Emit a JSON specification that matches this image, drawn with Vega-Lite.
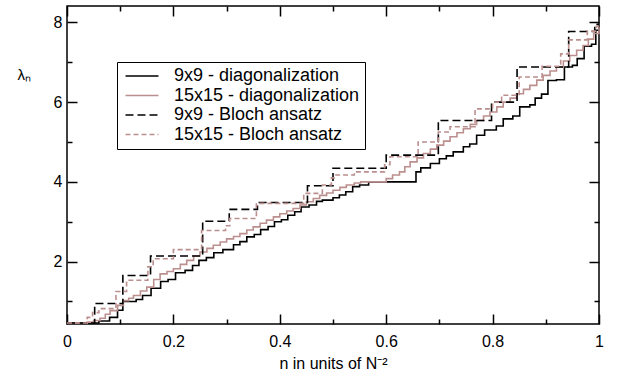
{
  "$schema": "https://vega.github.io/schema/vega-lite/v6.json",
  "width": 532,
  "height": 318,
  "autosize": {"type": "none"},
  "padding": {"left": 67, "top": 6, "right": 27, "bottom": 50},
  "config": {
    "view": {"stroke": "#000", "strokeWidth": 1.5},
    "font": "Liberation Sans",
    "legend": {
      "orient": "none", "legendX": 50, "legendY": 56,
      "strokeColor": "#000", "fillColor": "#fff", "padding": 5,
      "labelFontSize": 18, "labelColor": "#000", "labelFont": "Liberation Sans",
      "symbolSize": 121, "symbolStrokeWidth": 1.6, "rowPadding": 1.5,
      "labelLimit": 0, "labelOffset": 34, "cornerRadius": 0,
      "symbolType": "M-1,0L5,0"
    }
  },
  "datasets": {
    "pts": [
      {"s": "9x9 - diagonalization", "x": 0.000, "y": 0.46},
      {"s": "9x9 - diagonalization", "x": 0.060, "y": 0.51},
      {"s": "9x9 - diagonalization", "x": 0.080, "y": 0.60},
      {"s": "9x9 - diagonalization", "x": 0.095, "y": 0.78},
      {"s": "9x9 - diagonalization", "x": 0.105, "y": 1.00},
      {"s": "9x9 - diagonalization", "x": 0.130, "y": 1.05},
      {"s": "9x9 - diagonalization", "x": 0.142, "y": 1.15},
      {"s": "9x9 - diagonalization", "x": 0.158, "y": 1.33},
      {"s": "9x9 - diagonalization", "x": 0.176, "y": 1.50},
      {"s": "9x9 - diagonalization", "x": 0.190, "y": 1.55},
      {"s": "9x9 - diagonalization", "x": 0.204, "y": 1.72},
      {"s": "9x9 - diagonalization", "x": 0.222, "y": 1.78},
      {"s": "9x9 - diagonalization", "x": 0.236, "y": 1.90},
      {"s": "9x9 - diagonalization", "x": 0.248, "y": 2.03},
      {"s": "9x9 - diagonalization", "x": 0.262, "y": 2.10},
      {"s": "9x9 - diagonalization", "x": 0.276, "y": 2.22},
      {"s": "9x9 - diagonalization", "x": 0.293, "y": 2.30},
      {"s": "9x9 - diagonalization", "x": 0.313, "y": 2.42},
      {"s": "9x9 - diagonalization", "x": 0.325, "y": 2.50},
      {"s": "9x9 - diagonalization", "x": 0.338, "y": 2.62},
      {"s": "9x9 - diagonalization", "x": 0.352, "y": 2.68},
      {"s": "9x9 - diagonalization", "x": 0.364, "y": 2.80},
      {"s": "9x9 - diagonalization", "x": 0.378, "y": 2.88},
      {"s": "9x9 - diagonalization", "x": 0.390, "y": 3.00},
      {"s": "9x9 - diagonalization", "x": 0.403, "y": 3.05},
      {"s": "9x9 - diagonalization", "x": 0.415, "y": 3.16},
      {"s": "9x9 - diagonalization", "x": 0.428, "y": 3.25},
      {"s": "9x9 - diagonalization", "x": 0.440, "y": 3.37},
      {"s": "9x9 - diagonalization", "x": 0.455, "y": 3.42},
      {"s": "9x9 - diagonalization", "x": 0.469, "y": 3.51},
      {"s": "9x9 - diagonalization", "x": 0.480, "y": 3.54},
      {"s": "9x9 - diagonalization", "x": 0.500, "y": 3.60},
      {"s": "9x9 - diagonalization", "x": 0.512, "y": 3.67},
      {"s": "9x9 - diagonalization", "x": 0.524, "y": 3.75},
      {"s": "9x9 - diagonalization", "x": 0.537, "y": 3.88},
      {"s": "9x9 - diagonalization", "x": 0.550, "y": 3.92},
      {"s": "9x9 - diagonalization", "x": 0.567, "y": 4.00},
      {"s": "9x9 - diagonalization", "x": 0.656, "y": 4.25},
      {"s": "9x9 - diagonalization", "x": 0.665, "y": 4.35},
      {"s": "9x9 - diagonalization", "x": 0.683, "y": 4.46},
      {"s": "9x9 - diagonalization", "x": 0.700, "y": 4.58},
      {"s": "9x9 - diagonalization", "x": 0.713, "y": 4.65},
      {"s": "9x9 - diagonalization", "x": 0.726, "y": 4.75},
      {"s": "9x9 - diagonalization", "x": 0.745, "y": 4.88},
      {"s": "9x9 - diagonalization", "x": 0.757, "y": 4.95},
      {"s": "9x9 - diagonalization", "x": 0.770, "y": 5.17},
      {"s": "9x9 - diagonalization", "x": 0.785, "y": 5.30},
      {"s": "9x9 - diagonalization", "x": 0.807, "y": 5.40},
      {"s": "9x9 - diagonalization", "x": 0.820, "y": 5.58},
      {"s": "9x9 - diagonalization", "x": 0.838, "y": 5.65},
      {"s": "9x9 - diagonalization", "x": 0.851, "y": 5.88},
      {"s": "9x9 - diagonalization", "x": 0.870, "y": 5.93},
      {"s": "9x9 - diagonalization", "x": 0.880, "y": 6.10},
      {"s": "9x9 - diagonalization", "x": 0.892, "y": 6.20},
      {"s": "9x9 - diagonalization", "x": 0.904, "y": 6.54},
      {"s": "9x9 - diagonalization", "x": 0.920, "y": 6.56},
      {"s": "9x9 - diagonalization", "x": 0.935, "y": 6.88},
      {"s": "9x9 - diagonalization", "x": 0.950, "y": 6.92},
      {"s": "9x9 - diagonalization", "x": 0.959, "y": 7.09},
      {"s": "9x9 - diagonalization", "x": 0.972, "y": 7.40},
      {"s": "9x9 - diagonalization", "x": 0.986, "y": 7.45},
      {"s": "9x9 - diagonalization", "x": 0.994, "y": 7.80},
      {"s": "9x9 - diagonalization", "x": 1.000, "y": 7.80},

      {"s": "15x15 - diagonalization", "x": 0.000, "y": 0.46},
      {"s": "15x15 - diagonalization", "x": 0.038, "y": 0.48},
      {"s": "15x15 - diagonalization", "x": 0.050, "y": 0.52},
      {"s": "15x15 - diagonalization", "x": 0.062, "y": 0.58},
      {"s": "15x15 - diagonalization", "x": 0.072, "y": 0.68},
      {"s": "15x15 - diagonalization", "x": 0.081, "y": 0.77},
      {"s": "15x15 - diagonalization", "x": 0.095, "y": 0.90},
      {"s": "15x15 - diagonalization", "x": 0.106, "y": 1.02},
      {"s": "15x15 - diagonalization", "x": 0.116, "y": 1.08},
      {"s": "15x15 - diagonalization", "x": 0.125, "y": 1.15},
      {"s": "15x15 - diagonalization", "x": 0.138, "y": 1.26},
      {"s": "15x15 - diagonalization", "x": 0.150, "y": 1.36},
      {"s": "15x15 - diagonalization", "x": 0.163, "y": 1.55},
      {"s": "15x15 - diagonalization", "x": 0.175, "y": 1.69},
      {"s": "15x15 - diagonalization", "x": 0.188, "y": 1.75},
      {"s": "15x15 - diagonalization", "x": 0.200, "y": 1.82},
      {"s": "15x15 - diagonalization", "x": 0.213, "y": 1.93},
      {"s": "15x15 - diagonalization", "x": 0.225, "y": 2.03},
      {"s": "15x15 - diagonalization", "x": 0.238, "y": 2.14},
      {"s": "15x15 - diagonalization", "x": 0.250, "y": 2.24},
      {"s": "15x15 - diagonalization", "x": 0.263, "y": 2.33},
      {"s": "15x15 - diagonalization", "x": 0.275, "y": 2.41},
      {"s": "15x15 - diagonalization", "x": 0.288, "y": 2.49},
      {"s": "15x15 - diagonalization", "x": 0.300, "y": 2.57},
      {"s": "15x15 - diagonalization", "x": 0.313, "y": 2.63},
      {"s": "15x15 - diagonalization", "x": 0.325, "y": 2.70},
      {"s": "15x15 - diagonalization", "x": 0.338, "y": 2.79},
      {"s": "15x15 - diagonalization", "x": 0.350, "y": 2.87},
      {"s": "15x15 - diagonalization", "x": 0.363, "y": 2.96},
      {"s": "15x15 - diagonalization", "x": 0.375, "y": 3.04},
      {"s": "15x15 - diagonalization", "x": 0.388, "y": 3.12},
      {"s": "15x15 - diagonalization", "x": 0.400, "y": 3.20},
      {"s": "15x15 - diagonalization", "x": 0.413, "y": 3.27},
      {"s": "15x15 - diagonalization", "x": 0.425, "y": 3.33},
      {"s": "15x15 - diagonalization", "x": 0.438, "y": 3.42},
      {"s": "15x15 - diagonalization", "x": 0.450, "y": 3.50},
      {"s": "15x15 - diagonalization", "x": 0.463, "y": 3.58},
      {"s": "15x15 - diagonalization", "x": 0.475, "y": 3.66},
      {"s": "15x15 - diagonalization", "x": 0.488, "y": 3.72},
      {"s": "15x15 - diagonalization", "x": 0.500, "y": 3.79},
      {"s": "15x15 - diagonalization", "x": 0.513, "y": 3.86},
      {"s": "15x15 - diagonalization", "x": 0.525, "y": 3.92},
      {"s": "15x15 - diagonalization", "x": 0.540, "y": 3.97},
      {"s": "15x15 - diagonalization", "x": 0.552, "y": 4.00},
      {"s": "15x15 - diagonalization", "x": 0.600, "y": 4.08},
      {"s": "15x15 - diagonalization", "x": 0.612, "y": 4.17},
      {"s": "15x15 - diagonalization", "x": 0.625, "y": 4.25},
      {"s": "15x15 - diagonalization", "x": 0.635, "y": 4.38},
      {"s": "15x15 - diagonalization", "x": 0.645, "y": 4.50},
      {"s": "15x15 - diagonalization", "x": 0.658, "y": 4.60},
      {"s": "15x15 - diagonalization", "x": 0.670, "y": 4.71},
      {"s": "15x15 - diagonalization", "x": 0.683, "y": 4.82},
      {"s": "15x15 - diagonalization", "x": 0.695, "y": 4.92},
      {"s": "15x15 - diagonalization", "x": 0.708, "y": 5.02},
      {"s": "15x15 - diagonalization", "x": 0.720, "y": 5.13},
      {"s": "15x15 - diagonalization", "x": 0.733, "y": 5.23},
      {"s": "15x15 - diagonalization", "x": 0.745, "y": 5.33},
      {"s": "15x15 - diagonalization", "x": 0.758, "y": 5.44},
      {"s": "15x15 - diagonalization", "x": 0.770, "y": 5.54},
      {"s": "15x15 - diagonalization", "x": 0.783, "y": 5.65},
      {"s": "15x15 - diagonalization", "x": 0.795, "y": 5.75},
      {"s": "15x15 - diagonalization", "x": 0.808, "y": 5.88},
      {"s": "15x15 - diagonalization", "x": 0.820, "y": 6.00},
      {"s": "15x15 - diagonalization", "x": 0.833, "y": 6.10},
      {"s": "15x15 - diagonalization", "x": 0.845, "y": 6.21},
      {"s": "15x15 - diagonalization", "x": 0.858, "y": 6.32},
      {"s": "15x15 - diagonalization", "x": 0.870, "y": 6.42},
      {"s": "15x15 - diagonalization", "x": 0.883, "y": 6.55},
      {"s": "15x15 - diagonalization", "x": 0.895, "y": 6.67},
      {"s": "15x15 - diagonalization", "x": 0.908, "y": 6.78},
      {"s": "15x15 - diagonalization", "x": 0.920, "y": 6.88},
      {"s": "15x15 - diagonalization", "x": 0.933, "y": 7.03},
      {"s": "15x15 - diagonalization", "x": 0.945, "y": 7.17},
      {"s": "15x15 - diagonalization", "x": 0.958, "y": 7.30},
      {"s": "15x15 - diagonalization", "x": 0.970, "y": 7.42},
      {"s": "15x15 - diagonalization", "x": 0.980, "y": 7.58},
      {"s": "15x15 - diagonalization", "x": 0.990, "y": 7.72},
      {"s": "15x15 - diagonalization", "x": 1.000, "y": 7.88},

      {"s": "9x9 - Bloch ansatz", "x": 0.000, "y": 0.46},
      {"s": "9x9 - Bloch ansatz", "x": 0.052, "y": 0.95},
      {"s": "9x9 - Bloch ansatz", "x": 0.105, "y": 1.65},
      {"s": "9x9 - Bloch ansatz", "x": 0.157, "y": 2.14},
      {"s": "9x9 - Bloch ansatz", "x": 0.255, "y": 3.01},
      {"s": "9x9 - Bloch ansatz", "x": 0.305, "y": 3.31},
      {"s": "9x9 - Bloch ansatz", "x": 0.358, "y": 3.48},
      {"s": "9x9 - Bloch ansatz", "x": 0.452, "y": 3.90},
      {"s": "9x9 - Bloch ansatz", "x": 0.500, "y": 4.34},
      {"s": "9x9 - Bloch ansatz", "x": 0.600, "y": 4.67},
      {"s": "9x9 - Bloch ansatz", "x": 0.698, "y": 5.54},
      {"s": "9x9 - Bloch ansatz", "x": 0.798, "y": 6.00},
      {"s": "9x9 - Bloch ansatz", "x": 0.846, "y": 6.88},
      {"s": "9x9 - Bloch ansatz", "x": 0.943, "y": 7.77},
      {"s": "9x9 - Bloch ansatz", "x": 0.992, "y": 7.95},
      {"s": "9x9 - Bloch ansatz", "x": 1.000, "y": 7.95},

      {"s": "15x15 - Bloch ansatz", "x": 0.000, "y": 0.46},
      {"s": "15x15 - Bloch ansatz", "x": 0.038, "y": 0.60},
      {"s": "15x15 - Bloch ansatz", "x": 0.048, "y": 0.72},
      {"s": "15x15 - Bloch ansatz", "x": 0.060, "y": 0.82},
      {"s": "15x15 - Bloch ansatz", "x": 0.092, "y": 1.25},
      {"s": "15x15 - Bloch ansatz", "x": 0.112, "y": 1.53},
      {"s": "15x15 - Bloch ansatz", "x": 0.152, "y": 1.87},
      {"s": "15x15 - Bloch ansatz", "x": 0.162, "y": 2.07},
      {"s": "15x15 - Bloch ansatz", "x": 0.200, "y": 2.30},
      {"s": "15x15 - Bloch ansatz", "x": 0.253, "y": 2.78},
      {"s": "15x15 - Bloch ansatz", "x": 0.298, "y": 2.90},
      {"s": "15x15 - Bloch ansatz", "x": 0.306, "y": 3.08},
      {"s": "15x15 - Bloch ansatz", "x": 0.356, "y": 3.46},
      {"s": "15x15 - Bloch ansatz", "x": 0.445, "y": 3.71},
      {"s": "15x15 - Bloch ansatz", "x": 0.480, "y": 3.92},
      {"s": "15x15 - Bloch ansatz", "x": 0.497, "y": 4.10},
      {"s": "15x15 - Bloch ansatz", "x": 0.505, "y": 4.17},
      {"s": "15x15 - Bloch ansatz", "x": 0.540, "y": 4.25},
      {"s": "15x15 - Bloch ansatz", "x": 0.597, "y": 4.43},
      {"s": "15x15 - Bloch ansatz", "x": 0.607, "y": 4.63},
      {"s": "15x15 - Bloch ansatz", "x": 0.660, "y": 5.00},
      {"s": "15x15 - Bloch ansatz", "x": 0.698, "y": 5.25},
      {"s": "15x15 - Bloch ansatz", "x": 0.720, "y": 5.38},
      {"s": "15x15 - Bloch ansatz", "x": 0.767, "y": 5.83},
      {"s": "15x15 - Bloch ansatz", "x": 0.800, "y": 6.00},
      {"s": "15x15 - Bloch ansatz", "x": 0.817, "y": 6.17},
      {"s": "15x15 - Bloch ansatz", "x": 0.850, "y": 6.63},
      {"s": "15x15 - Bloch ansatz", "x": 0.893, "y": 6.90},
      {"s": "15x15 - Bloch ansatz", "x": 0.928, "y": 7.21},
      {"s": "15x15 - Bloch ansatz", "x": 0.943, "y": 7.56},
      {"s": "15x15 - Bloch ansatz", "x": 0.978, "y": 7.78},
      {"s": "15x15 - Bloch ansatz", "x": 0.995, "y": 7.90},
      {"s": "15x15 - Bloch ansatz", "x": 1.000, "y": 7.90}
    ]
  },
  "data": {"name": "pts"},
  "layer": [
    {
      "mark": {"type": "line", "interpolate": "step-after", "strokeWidth": 1.6},
      "encoding": {
        "x": {
          "field": "x", "type": "quantitative",
          "scale": {"domain": [0, 1], "nice": false, "zero": false},
          "axis": {
            "orient": "bottom", "offset": -10, "grid": false, "domain": false, "ticks": true,
            "values": [0, 0.2, 0.4, 0.6, 0.8, 1],
            "labelExpr": "format(datum.value, '.1~f')",
            "tickSize": 10, "tickColor": "#000", "tickWidth": 1.5,
            "labelFontSize": 16, "labelColor": "#000", "labelFlush": false, "labelPadding": 9,
            "title": "n in units of N⁻²", "titleFontSize": 16, "titleFontWeight": "normal",
            "titleColor": "#000", "titlePadding": 6
          }
        },
        "y": {
          "field": "y", "type": "quantitative",
          "scale": {"domain": [0.434, 8.41], "nice": false, "zero": false},
          "axis": {
            "orient": "left", "offset": -10, "grid": false, "domain": false, "ticks": true,
            "values": [2, 4, 6, 8],
            "tickSize": 10, "tickColor": "#000", "tickWidth": 1.5,
            "labelFontSize": 16, "labelColor": "#000", "labelPadding": 5,
            "title": "λₙ", "titleAngle": 0, "titleX": -60, "titleY": 68,
            "titleAlign": "left", "titleBaseline": "middle",
            "titleFontSize": 15, "titleFontWeight": "normal", "titleColor": "#000"
          }
        },
        "color": {
          "field": "s", "type": "nominal",
          "scale": {
            "domain": ["9x9 - diagonalization", "15x15 - diagonalization", "9x9 - Bloch ansatz", "15x15 - Bloch ansatz"],
            "range": ["#000000", "#bc8f8f", "#000000", "#bc8f8f"]
          },
          "legend": {"title": null}
        },
        "strokeDash": {
          "field": "s", "type": "nominal",
          "scale": {
            "domain": ["9x9 - diagonalization", "15x15 - diagonalization", "9x9 - Bloch ansatz", "15x15 - Bloch ansatz"],
            "range": [[1, 0], [1, 0], [8, 4], [5, 3]]
          },
          "legend": {"title": null}
        }
      }
    },
    {
      "mark": {"type": "point", "opacity": 0},
      "encoding": {
        "x": {
          "field": "x", "type": "quantitative",
          "axis": {"orient": "top", "offset": -10, "grid": false, "domain": false, "ticks": true, "labels": false, "title": null,
                   "values": [0, 0.2, 0.4, 0.6, 0.8, 1], "tickSize": 10, "tickColor": "#000", "tickWidth": 1.5}
        },
        "y": {
          "field": "y", "type": "quantitative",
          "axis": {"orient": "right", "offset": -10, "grid": false, "domain": false, "ticks": true, "labels": false, "title": null,
                   "values": [2, 4, 6, 8], "tickSize": 10, "tickColor": "#000", "tickWidth": 1.5}
        }
      }
    },
    {
      "mark": {"type": "point", "opacity": 0},
      "encoding": {
        "x": {
          "field": "x", "type": "quantitative",
          "axis": {"orient": "bottom", "offset": -5, "grid": false, "domain": false, "ticks": true, "labels": false, "title": null,
                   "values": [0.1, 0.3, 0.5, 0.7, 0.9], "tickSize": 5, "tickColor": "#000", "tickWidth": 1.5}
        },
        "y": {
          "field": "y", "type": "quantitative",
          "axis": {"orient": "left", "offset": -5, "grid": false, "domain": false, "ticks": true, "labels": false, "title": null,
                   "values": [1, 3, 5, 7], "tickSize": 5, "tickColor": "#000", "tickWidth": 1.5}
        }
      }
    },
    {
      "mark": {"type": "point", "opacity": 0},
      "encoding": {
        "x": {
          "field": "x", "type": "quantitative",
          "axis": {"orient": "top", "offset": -5, "grid": false, "domain": false, "ticks": true, "labels": false, "title": null,
                   "values": [0.1, 0.3, 0.5, 0.7, 0.9], "tickSize": 5, "tickColor": "#000", "tickWidth": 1.5}
        },
        "y": {
          "field": "y", "type": "quantitative",
          "axis": {"orient": "right", "offset": -5, "grid": false, "domain": false, "ticks": true, "labels": false, "title": null,
                   "values": [1, 3, 5, 7], "tickSize": 5, "tickColor": "#000", "tickWidth": 1.5}
        }
      }
    }
  ],
  "resolve": {"axis": {"x": "independent", "y": "independent"}}
}
